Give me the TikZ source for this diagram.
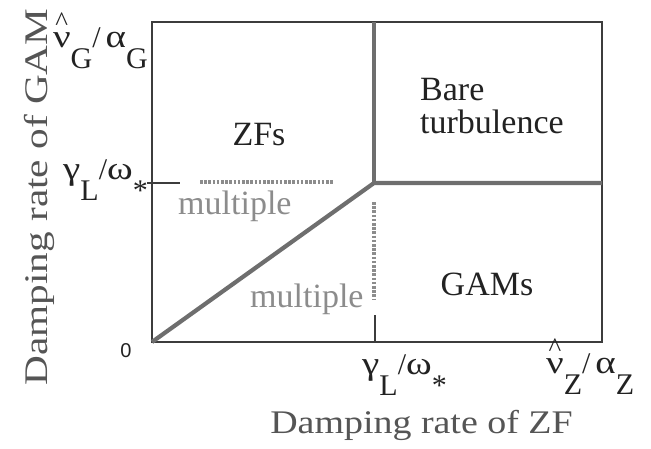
\documentclass[tikz,border=0pt]{standalone}
\usepackage{graphicx}
\usepackage{fontspec}
\setmainfont{Liberation Serif}
\newfontfamily\zerofont{Liberation Sans}
\usetikzlibrary{positioning}
\definecolor{axline}{HTML}{3C3C3C}
\definecolor{phline}{HTML}{6E6E6E}
\definecolor{mulgray}{HTML}{8C8C8C}
\definecolor{titgray}{HTML}{555555}
\definecolor{lbltext}{HTML}{222222}
\newcommand{\dn}[1]{\raisebox{-0.7em}{#1}}
\newcommand{\gk}[1]{\scalebox{1.3}[1.08]{#1}}
\newcommand{\hatnu}{\rlap{\raisebox{0.56em}{\kern0.08em{\fontsize{27}{27}\selectfont\textasciicircum}}}\gk{ν}}
\tikzset{
  axisline/.style  = {draw=axline, line width=1.1pt},
  phaseline/.style = {draw=phline, line width=4.2pt, line join=miter},
  multline/.style  = {draw=mulgray, line width=4pt, dash pattern=on 2.6pt off 1.6pt},
  regionlbl/.style = {font=\fontsize{34}{33}\selectfont, text=lbltext, inner sep=0pt},
  multlbl/.style   = {regionlbl, text=mulgray},
  ticklbl/.style   = {font=\fontsize{30}{30}\selectfont, text=lbltext, inner sep=0pt},
  axtitle/.style   = {font=\fontsize{33}{33}\selectfont, text=titgray, inner sep=0pt},
}

\begin{document}
\begin{tikzpicture}[x=1pt, y=-1pt]
    \useasboundingbox (0,0) rectangle (651,448);
    % frame and corners
    \coordinate (o)  at (152,342);
    \coordinate (tr) at (602,22);
    \coordinate (c)  at (374,183);
    \coordinate (ct) at (374,22);
    \coordinate (cr) at (602,183);
    \draw[axisline] (o) rectangle (tr);
    % ticks
    \coordinate (yt0) at (147,183);
    \coordinate (yt1) at (180,183);
    \coordinate (xt0) at (375,315);
    \coordinate (xt1) at (375,342);
    \draw[axisline] (yt0) -- (yt1);
    \draw[axisline] (xt0) -- (xt1);
    % phase boundaries
    \draw[phaseline] (o) -- (c) -- (cr);
    \draw[phaseline] (c) -- (ct);
    % multiple-solution borders
    \coordinate (mh0) at (200,182);
    \coordinate (mh1) at (333,182);
    \coordinate (mv0) at (374,202);
    \coordinate (mv1) at (374,300);
    \draw[multline] (mh0) -- (mh1);
    \draw[multline] (mv0) -- (mv1);
    % regions
    \node[regionlbl, anchor=base]                   (zfs)  at (259,145) {ZFs};
    \node[regionlbl, anchor=base]                   (gams) at (487,295) {GAMs};
    \node[regionlbl, align=left, anchor=base west]  (bare) at (420,133) {Bare\\turbulence};
    \node[multlbl, anchor=base west]                (mul1) at (178,214) {multiple};
    \node[multlbl, anchor=base west]                (mul2) at (250,307) {multiple};
    % tick labels
    \node[ticklbl, font=\zerofont\fontsize{20}{20}\selectfont, anchor=base] (zero) at (126,357) {0};
    \node[ticklbl, anchor=base east] (ynug) at (148,47)  {\hatnu\dn{G}/\,\gk{α}\dn{G}};
    \node[ticklbl, anchor=base east] (ygam) at (148,179) {\gk{γ}\dn{L}/\gk{ω}\dn{*}};
    \node[ticklbl, anchor=base west] (xgam) at (362,374) {\gk{γ}\dn{L}/\gk{ω}\dn{*}};
    \node[ticklbl, anchor=base west] (xnuz) at (546,373) {\hatnu\dn{Z}/\,\gk{α}\dn{Z}};
    % axis titles
    \node[axtitle, xscale=1.15, anchor=base] (xtitle) at (421.5,433) {Damping rate of ZF};
    \node[axtitle, rotate=90, xscale=1.25, anchor=base] (ytitle) at (47,197) {Damping rate of GAM};
\end{tikzpicture}
\end{document}
